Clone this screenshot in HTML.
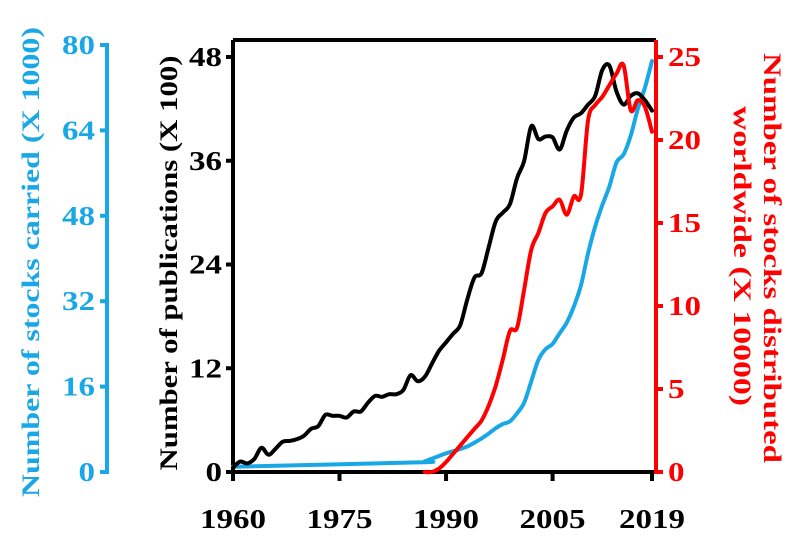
<!DOCTYPE html>
<html><head><meta charset="utf-8"><style>
body{margin:0;background:#fff;}
svg{display:block;font-family:"Liberation Serif",serif;font-weight:bold;}
</style></head><body>
<svg id="c" width="800" height="544"></svg>
<script>
const years=[];for(let y=1960;y<=2019;y++)years.push(y);
const pubYears=years;
const publications=[0.5,1.2,1.0,1.5,2.8,2.0,2.7,3.5,3.6,3.8,4.2,5.0,5.3,6.6,6.5,6.5,6.3,7.0,7.0,8.0,8.8,8.7,9.0,9.0,9.5,11.2,10.5,11.0,12.5,14.0,15.0,16.0,17.0,20.0,22.5,23.0,26.0,29.0,30.0,31.0,34.0,36.0,40.0,38.5,38.8,38.7,37.3,39.5,41.0,41.5,42.5,43.5,46.5,47.0,44.0,42.5,43.5,43.8,43.0,41.8];
const redYears=[1987,1988,1989,1990,1991,1992,1993,1994,1995,1996,1997,1998,1999,2000,2001,2002,2003,2004,2005,2006,2007,2008,2009,2010,2011,2012,2013,2014,2015,2016,2017,2018,2019];
const distributed=[0,0,0.2,0.6,1.1,1.6,2.1,2.6,3.1,4.0,5.2,6.8,8.5,8.7,11,13.4,14.4,15.6,16.0,16.4,15.5,16.6,16.7,21.2,22.1,22.6,23.3,24.0,24.5,21.8,22.4,22.0,20.5];
const blueYears=[1960,1986,1987,1988,1989,1990,1991,1992,1993,1994,1995,1996,1997,1998,1999,2000,2001,2002,2003,2004,2005,2006,2007,2008,2009,2010,2011,2012,2013,2014,2015,2016,2017,2018,2019];
const carried=[1.0,1.8,2.0,2.5,3.0,3.5,3.9,4.3,4.8,5.5,6.3,7.2,8.2,9.0,9.5,11,13,17,21,23,24,26,28,31,35,41,46,50,53.5,58,59.5,63,68,72,77];
const xTicks=[1960,1975,1990,2005,2019];
const pubTicks=[0,12,24,36,48];
const redTicks=[0,5,10,15,20,25];
const blueTicks=[0,16,32,48,64,80];
const X=y=>233+(y-1960)*(652-233)/59;
const Yp=v=>472-v*(472-57)/48;
const Yr=v=>472-v*(472-57)/25;
const Yb=v=>472-v*(472-45)/80;
const BLUE="#1aa7e6",RED="#ff0000";
const svg=document.getElementById('c');
const NS="http://www.w3.org/2000/svg";
function el(t,a,txt){const e=document.createElementNS(NS,t);for(const k in a)e.setAttribute(k,a[k]);if(txt!==undefined)e.textContent=txt;svg.appendChild(e);return e;}
const dw=s=>String(s).length*16.5;
let e;
e=el('line',{x1:233,y1:472,x2:656,y2:472,stroke:BLUE,'stroke-width':1.5});

e=el('line',{x1:233,y1:40,x2:656,y2:40,stroke:'#000','stroke-width':4});

e=el('line',{x1:233,y1:40,x2:233,y2:474,stroke:'#000','stroke-width':4});

e=el('line',{x1:233,y1:472,x2:656,y2:472,stroke:'#000','stroke-width':4});

e=el('line',{x1:656,y1:40,x2:656,y2:474,stroke:RED,'stroke-width':4});

e=el('line',{x1:107,y1:43,x2:107,y2:474,stroke:BLUE,'stroke-width':4});

xTicks.forEach(t=>{
 e=el('line',{x1:X(t),y1:472,x2:X(t),y2:481,stroke:'#000','stroke-width':4});
 
 e=el('text',{x:X(t),y:528,'text-anchor':'middle','font-size':27,fill:'#000',textLength:66,lengthAdjust:'spacingAndGlyphs'},t);
 
});
pubTicks.forEach(t=>{
 e=el('line',{x1:226,y1:Yp(t),x2:233,y2:Yp(t),stroke:'#000','stroke-width':4});
 
 e=el('text',{x:222,y:Yp(t)+9,'text-anchor':'end','font-size':27,fill:'#000',textLength:dw(t),lengthAdjust:'spacingAndGlyphs'},t);
 
});
redTicks.forEach(t=>{
 e=el('line',{x1:656,y1:Yr(t),x2:663,y2:Yr(t),stroke:RED,'stroke-width':4});
 
 e=el('text',{x:668,y:Yr(t)+9,'text-anchor':'start','font-size':27,fill:RED,textLength:dw(t),lengthAdjust:'spacingAndGlyphs'},t);
 
});
blueTicks.forEach(t=>{
 e=el('line',{x1:100,y1:Yb(t),x2:107,y2:Yb(t),stroke:BLUE,'stroke-width':4});
 
 e=el('text',{x:95,y:Yb(t)+9,'text-anchor':'end','font-size':27,fill:BLUE,textLength:dw(t),lengthAdjust:'spacingAndGlyphs'},t);
 
});
function path(xs,vs,yf,col,name){
 const P=xs.map((x,i)=>[X(x),yf(vs[i])]);
 let d='M'+P[0][0].toFixed(1)+','+P[0][1].toFixed(1);
 for(let i=0;i<P.length-1;i++){
  const p0=P[Math.max(i-1,0)],p1=P[i],p2=P[i+1],p3=P[Math.min(i+2,P.length-1)];
  const c1=[p1[0]+(p2[0]-p0[0])/6,p1[1]+(p2[1]-p0[1])/6];
  const c2=[p2[0]-(p3[0]-p1[0])/6,p2[1]-(p3[1]-p1[1])/6];
  d+='C'+c1.map(v=>v.toFixed(1))+' '+c2.map(v=>v.toFixed(1))+' '+p2.map(v=>v.toFixed(1));
 }
 const e=el('path',{d:d,fill:'none',stroke:col,'stroke-width':4,'stroke-linejoin':'round','stroke-linecap':'round'});
 
 
}
path(blueYears,carried,Yb,BLUE,'carried-series');
path(pubYears,publications,Yp,'#000','publications-series');
path(redYears,distributed,Yr,RED,'distributed-series');
e=el('text',{x:0,y:0,'text-anchor':'middle','font-size':25,fill:BLUE,textLength:470,lengthAdjust:'spacingAndGlyphs',transform:'translate(39,262) rotate(-90)'},'Number of stocks carried (X 1000)');

e=el('text',{x:0,y:0,'text-anchor':'middle','font-size':25,fill:'#000',textLength:415,lengthAdjust:'spacingAndGlyphs',transform:'translate(177,263) rotate(-90)'},'Number of publications (X 100)');

e=el('text',{x:0,y:0,'text-anchor':'middle','font-size':25,fill:RED,textLength:410,lengthAdjust:'spacingAndGlyphs',transform:'translate(764,258) rotate(90)'},'Number of stocks distributed');

e=el('text',{x:0,y:0,'text-anchor':'middle','font-size':25,fill:RED,textLength:300,lengthAdjust:'spacingAndGlyphs',transform:'translate(734,256) rotate(90)'},'worldwide (X 10000)');

</script>
</body></html>
